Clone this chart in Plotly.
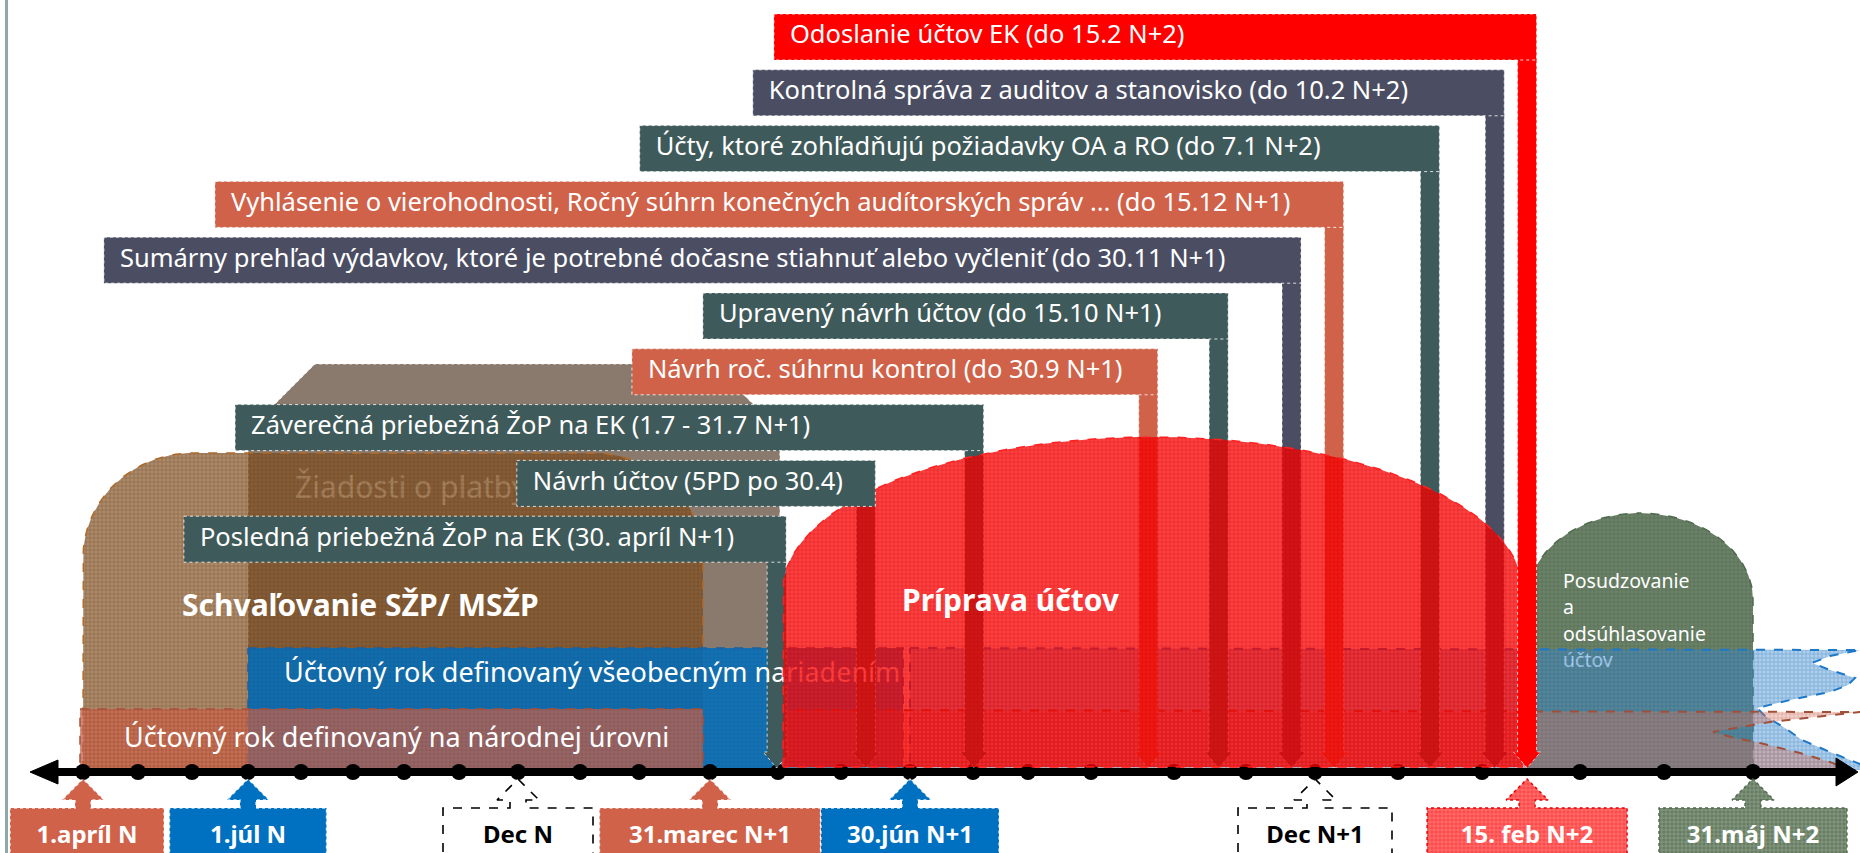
import numpy as np
import plotly.graph_objects as go

# ---------------- data ----------------

# months on the timeline (one dot per month), Apr N .. May N+2
months = ["apr N", "máj N", "jún N", "júl N", "aug N", "sep N", "okt N", "nov N", "dec N",
          "jan N+1", "feb N+1", "mar N+1", "apr N+1", "máj N+1", "jún N+1", "júl N+1",
          "aug N+1", "sep N+1", "okt N+1", "nov N+1", "dec N+1",
          "jan N+2", "feb N+2", "mar N+2", "apr N+2", "máj N+2"]

# deliverables (top boxes), start and deadline in month units of the timeline
task_text = [
    "Odoslanie účtov EK (do 15.2 N+2)",
    "Kontrolná správa z auditov a stanovisko (do 10.2 N+2)",
    "Účty, ktoré zohľadňujú požiadavky OA a RO (do 7.1 N+2)",
    "Vyhlásenie o vierohodnosti, Ročný súhrn konečných audítorských správ ... (do 15.12 N+1)",
    "Sumárny prehľad výdavkov, ktoré je potrebné dočasne stiahnuť alebo vyčleniť (do 30.11 N+1)",
    "Upravený návrh účtov (do 15.10 N+1)",
    "Návrh roč. súhrnu kontrol (do 30.9 N+1)",
    "Záverečná priebežná ŽoP na EK (1.7 - 31.7 N+1)",
    "Návrh účtov (5PD po 30.4)",
    "Posledná priebežná ŽoP na EK (30. apríl N+1)",
]
task_start = [11.94, 11.63, 10.01, 2.41, 0.38, 10.90, 9.88, 2.77, 7.98, 1.85]
task_due = [22.46, 22.13, 21.38, 20.23, 19.66, 18.62, 17.69, 15.02, 13.36, 11.98]
task_kind = ["red", "slate", "teal", "coral", "slate", "teal", "coral", "teal", "teal", "teal"]

# milestones under the timeline
ms_text = ["1.apríl N", "1.júl N", "Dec N", "31.marec N+1", "30.jún N+1",
           "Dec N+1", "15. feb N+2", "31.máj N+2"]
ms_month = [0, 3, 8, 11, 14, 20, 22.46, 25]
ms_kind = ["coral", "blue", "plain", "coral", "blue", "plain", "red", "green"]

# phases (month units)
phase_name = ["Žiadosti o platby", "Schvaľovanie SŽP/ MSŽP",
              "Účtovný rok definovaný všeobecným nariadením",
              "Účtovný rok definovaný na národnej úrovni",
              "Príprava účtov", "Posudzovanie a odsúhlasovanie účtov"]
phase_start = [3, 0, 3, 0, 12.08, 22.46]
phase_end = [12.03, 10.9, 13.9, 10.9, 22.41, 25]
next_eu_year_start = 14
next_nat_year_start = 12

# ---------------- layout / style ----------------
month_x = [83, 138, 192, 248, 301, 353, 404, 459, 518, 580, 639, 710, 778, 841, 910,
           973, 1028, 1091, 1174, 1246, 1315, 1398, 1482, 1580, 1664, 1753]
W, H = 1860, 853
AXIS_Y = 772
FONT = "Noto Sans"

COL = {"red": "#FF0000", "coral": "#D0624A", "teal": "#3F5A5A", "slate": "#4B4E63",
       "blue": "#0070C0", "green": "#667D62", "plain": "#FFFFFF"}


def mx(m):
    return float(np.interp(m, range(len(month_x)), month_x))


fig = go.Figure()


def poly(xs, ys, fill, line_color, width=1.2, dash="dash", pattern=None):
    fig.add_trace(go.Scatter(
        x=list(xs) + [xs[0]], y=list(ys) + [ys[0]], mode="lines", fill="toself",
        fillcolor=fill, line=dict(color=line_color, width=width, dash=dash),
        fillpattern=pattern, hoverinfo="skip", showlegend=False))


def text(x, y, s, size, color, bold=False, pos="middle right"):
    fig.add_trace(go.Scatter(
        x=[x], y=[y], mode="text", text=["<b>%s</b>" % s if bold else s],
        textposition=pos, textfont=dict(size=size, color=color, family=FONT),
        hoverinfo="skip", showlegend=False))


def hatch(fg, op=0.45, size=4):
    return dict(shape="+", size=size, solidity=0.3, fgcolor=fg, fgopacity=op,
                fillmode="overlay")


def dome(x0, x1, top, bottom, rx, ry, n=40):
    cy = top + ry
    t = np.linspace(np.pi, np.pi / 2, n)
    xs = [x0] + list(x0 + rx + rx * np.cos(t))
    ys = [bottom] + list(cy - ry * np.sin(t))
    t = np.linspace(np.pi / 2, 0, n)
    xs += list(x1 - rx + rx * np.cos(t)) + [x1]
    ys += list(cy - ry * np.sin(t)) + [bottom]
    return xs, ys


# frame line on the left
fig.add_shape(type="line", x0=6.5, x1=6.5, y0=0, y1=H, line=dict(color="#8FA9A6", width=3))

# --- Žiadosti o platby (gray block)
gx0, gx1 = mx(phase_start[0]), mx(phase_end[0])
poly([gx0, gx0, gx0 + 67, gx1 - 67, gx1, gx1], [770, 431, 364, 364, 431, 770],
     "#8A7A6E", "rgba(255,255,255,0.8)", width=1, dash="dot")
text(295, 490, phase_name[0], 30, "#EDE6DF")

# --- Schvaľovanie dome (brown, translucent)
bx, by = dome(mx(phase_start[1]), mx(phase_end[1]), 453, 770, 110, 105)
poly(bx, by, "rgba(130,78,25,0.66)", "#B06A2A", width=1.5,
     pattern=hatch("#5A3A1A", 0.45))
text(182, 608, phase_name[1], 30, "white", bold=True)

# --- Posudzovanie dome (green)
gdx, gdy = dome(mx(phase_start[5]), mx(phase_end[5]), 513, 770, 114, 87)
poly(gdx, gdy, "rgba(95,120,92,0.92)", "#4E6A4C", width=1.5,
     pattern=hatch("#3E523C", 0.45))
for i, ln in enumerate(["Posudzovanie", "a", "odsúhlasovanie", "účtov"]):
    text(1563, 583 + 26.5 * i, ln, 19.5, "white")

# --- EU accounting year (blue bands)
ex0, ex1 = mx(phase_start[2]), mx(phase_end[2])
poly([ex0, ex1, ex1, ex0], [648, 648, 770, 770], "rgba(0,112,192,0.85)",
     "#1F5F9F", width=1.5, pattern=hatch("#004E8A", 0.35))
wave_b = [(1860, 650), (1830, 656), (1812, 663), (1830, 670), (1855, 678), (1848, 685),
          (1830, 692), (1790, 700), (1757, 708), (1765, 716), (1785, 728), (1802, 740),
          (1830, 752), (1860, 764), (1860, 770)]
e2 = mx(next_eu_year_start)
poly([e2] + [p[0] for p in wave_b] + [e2], [648] + [p[1] for p in wave_b] + [770],
     "rgba(60,140,210,0.42)", "#1E78C8", width=2, pattern=hatch("#1E6CB0", 0.4))

# --- national accounting year (coral bands)
nx0, nx1 = mx(phase_start[3]), mx(phase_end[3])
poly([nx0 - 3, nx1, nx1, nx0 - 3], [709, 709, 770, 770], "rgba(208,98,74,0.68)",
     "#A8503A", width=1.5, pattern=hatch("#8A3A28", 0.4))
wave_c = [(1860, 712), (1815, 717), (1770, 722), (1713, 732), (1735, 738), (1760, 743),
          (1800, 753), (1830, 762), (1850, 770)]
n2 = mx(next_nat_year_start)
poly([n2] + [p[0] for p in wave_c] + [n2], [710] + [p[1] for p in wave_c] + [770],
     "rgba(220,120,100,0.35)", "#A0503A", width=2, pattern=hatch("#A0503A", 0.35))

# --- timeline
fig.add_trace(go.Scatter(x=[50, 1840], y=[AXIS_Y, AXIS_Y], mode="lines",
                         line=dict(color="black", width=8), hoverinfo="skip", showlegend=False))
poly([30, 58, 58], [AXIS_Y, AXIS_Y - 12, AXIS_Y + 12], "black", "black", width=1, dash="solid")
poly([1858, 1836, 1836], [AXIS_Y, AXIS_Y - 14, AXIS_Y + 14], "black", "black", width=1, dash="solid")
fig.add_trace(go.Scatter(x=month_x, y=[AXIS_Y] * len(month_x), mode="markers",
                         marker=dict(size=16, color="black"), text=months,
                         hoverinfo="text", showlegend=False))

# --- deliverable geometry
ROW0, PITCH, BOX_H = 14, 55.8, 46
LEG_W, HEAD_W, HEAD_TOP, TIP = 19, 27, 752, 768
boxes = []
for i, (s, st, due, k) in enumerate(zip(task_text, task_start, task_due, task_kind)):
    c = mx(due)
    x1 = c + LEG_W / 2
    x0 = mx(st)
    top = ROW0 + PITCH * i
    boxes.append((s, x0, x1, top, top + BOX_H, c, COL[k]))


def leg(b):
    s, x0, x1, top, bot, c, col = b
    xs = [c - LEG_W / 2, c + LEG_W / 2, c + LEG_W / 2, c + HEAD_W / 2, c, c - HEAD_W / 2, c - LEG_W / 2]
    ys = [bot - 2, bot - 2, HEAD_TOP, HEAD_TOP, TIP, HEAD_TOP, HEAD_TOP]
    poly(xs, ys, col, "rgba(255,255,255,0.75)", width=1, dash="dot")


for b in boxes:
    if b[6] != COL["red"]:
        leg(b)

# band captions above the legs, below the red dome
text(284, 675, phase_name[2], 27, "white")
text(124, 740, phase_name[3], 27, "white")

# --- Príprava účtov dome (red, translucent)
rx0, rx1 = mx(phase_start[4]), mx(phase_end[4])
rdx, rdy = dome(rx0, rx1, 437, 767, (rx1 - rx0) / 2, 153, n=80)
poly(rdx, rdy, "rgba(255,0,0,0.75)", "#FF2020", width=1.5, pattern=hatch("#B00000", 0.4))
text(902, 603, phase_name[4], 30, "white", bold=True)

for b in boxes:
    if b[6] == COL["red"]:
        leg(b)

# --- deliverable boxes on top
for s, x0, x1, top, bot, c, col in boxes:
    poly([x0, x1, x1, x0], [top, top, bot, bot], col, "rgba(255,255,255,0.8)", width=1, dash="dot")
    text(x0 + 16, (top + bot) / 2, s, 25.5, "white")

# --- milestones
label_w = [154, 157, 150, 221, 178, 154, 200, 188]
for s, m, k, w in zip(ms_text, ms_month, ms_kind, label_w):
    c = mx(m)
    x0 = max(10, c - w / 2)
    x1 = x0 + w
    xs = [x0, x0, c - 8, c - 8, c - 21, c, c + 21, c + 8, c + 8, x1, x1]
    ys = [870, 808, 808, 800, 800, 779, 800, 800, 808, 808, 870]
    if k == "plain":
        poly(xs, ys, "white", "black", width=1.6, dash="dash")
        text((x0 + x1) / 2, 837, s, 24, "black", bold=True, pos="middle center")
    else:
        pat = hatch("#FFFFFF", 0.3) if k in ("red", "green") else None
        fill = "#FF4A4A" if k == "red" else COL[k]
        edge = {"red": "#E00000", "green": "#4E6A4C"}.get(k, "rgba(255,255,255,0.8)")
        poly(xs, ys, fill, edge, width=1.4, dash="dot", pattern=pat)
        text((x0 + x1) / 2, 837, s, 24, "white", bold=True, pos="middle center")

fig.update_layout(
    width=W, height=H, margin=dict(l=0, r=0, t=0, b=0),
    plot_bgcolor="white", paper_bgcolor="white", showlegend=False,
    xaxis=dict(range=[0, W], visible=False, fixedrange=True),
    yaxis=dict(range=[H, 0], visible=False, fixedrange=True),
)

fig.write_html("out.html", config={"displayModeBar": False},
               post_script="document.body.style.margin='0px';document.body.style.overflow='hidden';")
